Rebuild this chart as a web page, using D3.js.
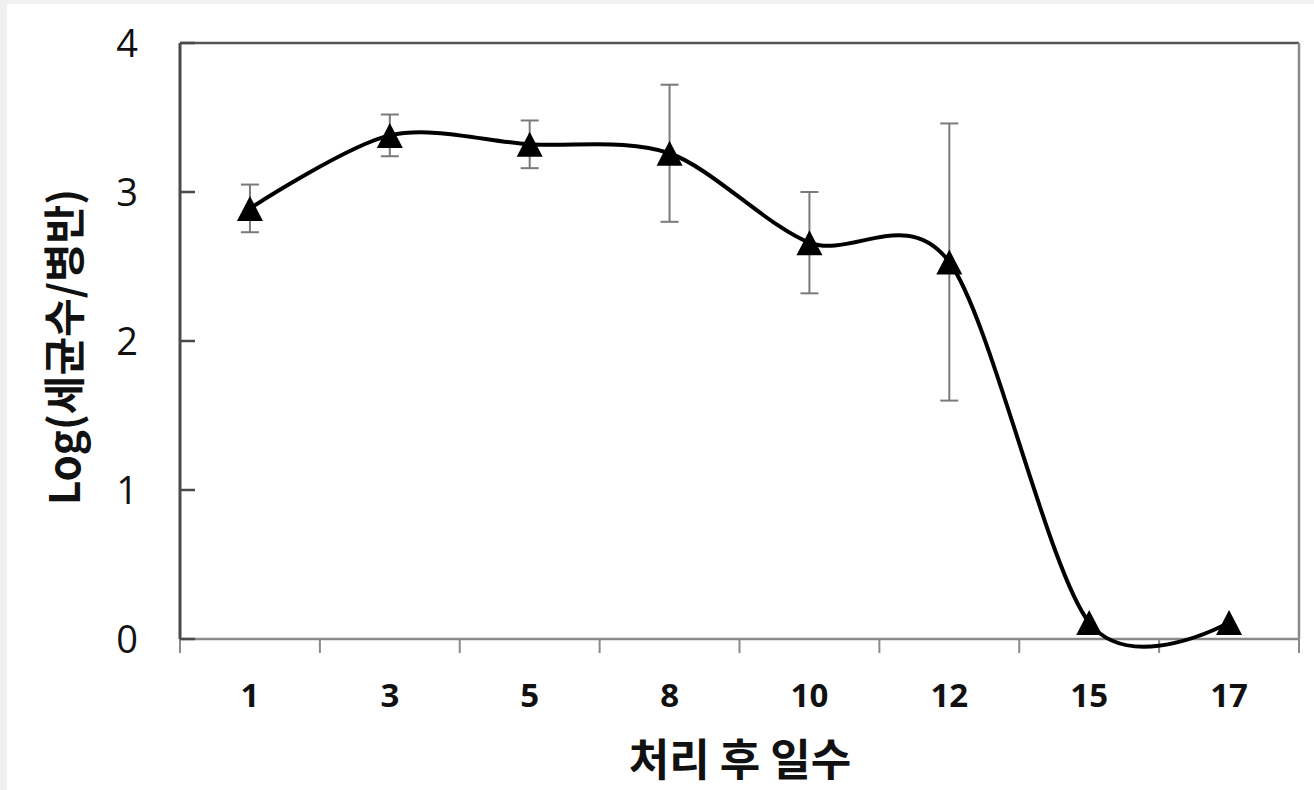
<!DOCTYPE html>
<html>
<head>
<meta charset="utf-8">
<script src="https://cdn.jsdelivr.net/npm/d3@7"></script>
<style>
  html, body { margin: 0; padding: 0; background: #f0f0f0; }
  svg { display: block; }
</style>
</head>
<body>
<svg id="chart" width="1314" height="790"></svg>
<script>
// Days after treatment, mean log counts and standard deviations
const days = ["1", "3", "5", "8", "10", "12", "15", "17"];
const logCounts = [2.89, 3.38, 3.32, 3.26, 2.66, 2.53, 0.11, 0.11];
const errors = [0.16, 0.14, 0.16, 0.46, 0.34, 0.93, 0, 0];
const yTicks = [0, 1, 2, 3, 4];

const svg = d3.select("#chart");
const W = 1314, H = 790;
const plot = { left: 180, right: 1299, top: 43, bottom: 639 };

// page panel
svg.append("rect").attr("x", 7).attr("y", 4).attr("width", W - 7).attr("height", H - 4).attr("fill", "#ffffff");

const x = d3.scaleBand().domain(days).range([plot.left, plot.right]).padding(0);
const y = d3.scaleLinear().domain([0, 4]).range([plot.bottom, plot.top]);
const cx = d => x(d) + x.bandwidth() / 2;

const numFont = "'Open Sans', 'Noto Sans', sans-serif";
const krFont = "'Noto Sans CJK KR', 'Noto Sans', sans-serif";

// frame: top and right edges
svg.append("line").attr("x1", plot.left).attr("x2", plot.right).attr("y1", plot.top).attr("y2", plot.top)
  .attr("stroke", "#555").attr("stroke-width", 2.5);
svg.append("line").attr("x1", plot.right).attr("x2", plot.right).attr("y1", plot.top).attr("y2", plot.bottom)
  .attr("stroke", "#8a8a8a").attr("stroke-width", 2.5);

// x axis: ticks between categories, pointing outward
const xAxis = svg.append("g");
xAxis.append("line").attr("x1", plot.left).attr("x2", plot.right).attr("y1", plot.bottom).attr("y2", plot.bottom)
  .attr("stroke", "#8a8a8a").attr("stroke-width", 2.5);
const bounds = days.map(d => x(d)).concat([plot.right]);
xAxis.selectAll("line.tick").data(bounds).join("line").attr("class", "tick")
  .attr("x1", d => d).attr("x2", d => d).attr("y1", plot.bottom).attr("y2", plot.bottom + 14)
  .attr("stroke", "#8a8a8a").attr("stroke-width", 2);
xAxis.selectAll("text").data(days).join("text")
  .attr("x", d => cx(d)).attr("y", 707)
  .attr("text-anchor", "middle")
  .attr("font-family", numFont).attr("font-weight", "bold").attr("font-size", 33)
  .attr("fill", "#111").text(d => d);

// y axis: ticks pointing inward
const yAxis = svg.append("g");
yAxis.append("line").attr("x1", plot.left).attr("x2", plot.left).attr("y1", plot.top).attr("y2", plot.bottom)
  .attr("stroke", "#4a4a4a").attr("stroke-width", 3);
yAxis.selectAll("line.tick").data(yTicks).join("line").attr("class", "tick")
  .attr("x1", plot.left).attr("x2", plot.left + 15).attr("y1", d => y(d)).attr("y2", d => y(d))
  .attr("stroke", "#4a4a4a").attr("stroke-width", 2.5);
yAxis.selectAll("text").data(yTicks).join("text")
  .attr("x", 138).attr("y", d => y(d)).attr("dy", "0.36em")
  .attr("text-anchor", "end")
  .attr("font-family", numFont).attr("font-size", 38)
  .attr("fill", "#111").text(d => d);

// axis titles
svg.append("text").attr("x", 740).attr("y", 776).attr("text-anchor", "middle")
  .attr("font-family", krFont).attr("font-weight", "bold").attr("font-size", 44)
  .attr("fill", "#111").text("처리 후 일수");
svg.append("text").attr("transform", "translate(80,347) rotate(-90)").attr("text-anchor", "middle")
  .attr("font-family", krFont).attr("font-weight", "bold").attr("font-size", 42)
  .attr("fill", "#111").text("Log(세균수/병반)");

const pts = days.map((d, i) => ({ day: d, v: logCounts[i], e: errors[i] }));

// error bars
const eb = svg.append("g").attr("stroke", "#7a7a7a").attr("stroke-width", 2);
pts.filter(p => p.e > 0).forEach(p => {
  const xc = cx(p.day);
  eb.append("line").attr("x1", xc).attr("x2", xc).attr("y1", y(p.v + p.e)).attr("y2", y(p.v - p.e));
  eb.append("line").attr("x1", xc - 9).attr("x2", xc + 9).attr("y1", y(p.v + p.e)).attr("y2", y(p.v + p.e));
  eb.append("line").attr("x1", xc - 9).attr("x2", xc + 9).attr("y1", y(p.v - p.e)).attr("y2", y(p.v - p.e));
});

// smoothed line
const line = d3.line().x(p => cx(p.day)).y(p => y(p.v)).curve(d3.curveCardinal.tension(0.1));
svg.append("path").datum(pts).attr("d", line)
  .attr("fill", "none").attr("stroke", "#000").attr("stroke-width", 4);

// triangle markers
svg.append("g").selectAll("path").data(pts).join("path")
  .attr("d", p => {
    const xc = cx(p.day), yc = y(p.v);
    return `M${xc},${yc - 12.5}L${xc + 13},${yc + 12.5}L${xc - 13},${yc + 12.5}Z`;
  })
  .attr("fill", "#000");
</script>
</body>
</html>
